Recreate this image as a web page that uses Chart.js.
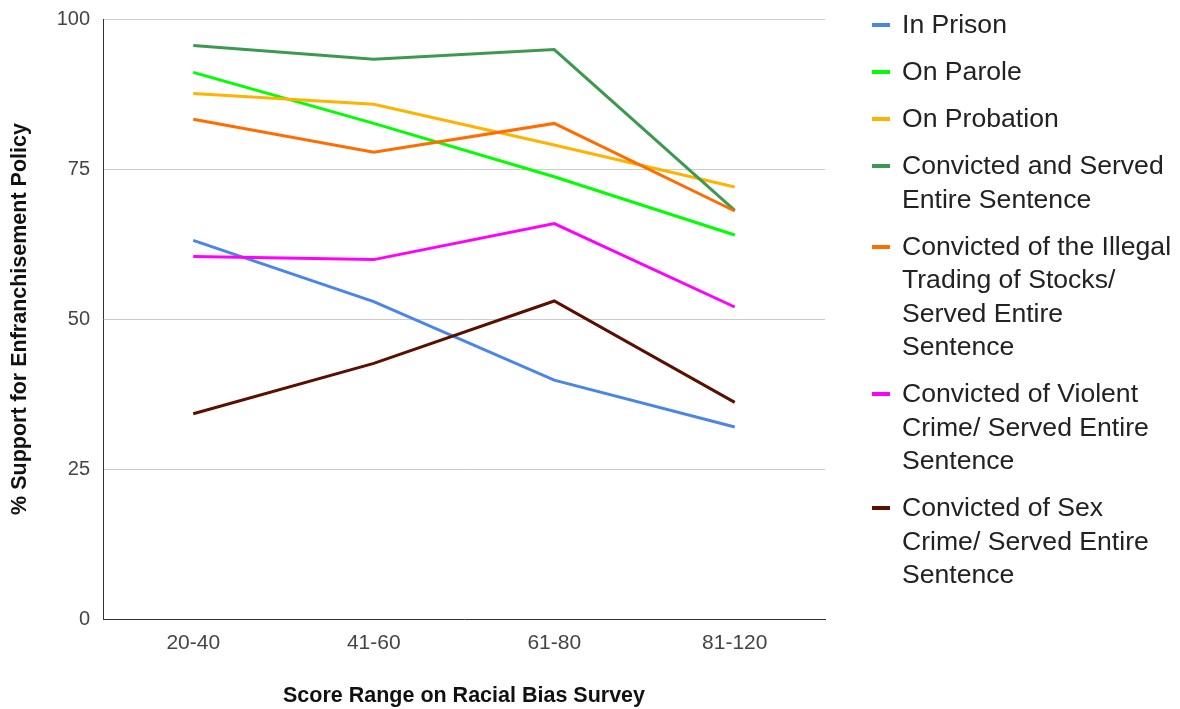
<!DOCTYPE html>
<html>
<head>
<meta charset="utf-8">
<script src="https://cdn.jsdelivr.net/npm/chart.js@4.4.1/dist/chart.umd.min.js"></script>
<style>
  html, body { margin: 0; padding: 0; background: #fff; }
  #wrap { position: relative; width: 1180px; height: 709px; }
  #chart { position: absolute; left: 0; top: 0; }
  #legend {
    position: absolute; left: 872px; top: 8px; width: 305px;
    font-family: Arial, "Liberation Sans", sans-serif; font-size: 26.6px;
    line-height: 33.5px; color: #222;
  }
  .item { position: relative; padding-left: 30px; margin-bottom: 13.5px; }
  .swatch { position: absolute; left: 0; top: 15px; width: 18px; height: 4px; }
</style>
</head>
<body>
<div id="wrap">
  <canvas id="chart" width="1180" height="709"></canvas>
  <div id="legend"></div>
</div>
<script>
// Score ranges on the racial bias survey
const categories = ["20-40", "41-60", "61-80", "81-120"];

// % support for enfranchisement, one array per group
const inPrison       = [63.1, 52.9, 39.8, 32.0];
const onParole       = [91.1, 82.6, 73.7, 64.0];
const onProbation    = [87.6, 85.8, 79.0, 72.0];
const servedEntire   = [95.6, 93.3, 94.9, 68.1];
const illegalTrading = [83.3, 77.8, 82.6, 68.0];
const violentCrime   = [60.4, 59.9, 65.9, 52.0];
const sexCrime       = [34.2, 42.6, 53.0, 36.1];

const seriesNames = [
  "In Prison",
  "On Parole",
  "On Probation",
  "Convicted and Served Entire Sentence",
  "Convicted of the Illegal Trading of Stocks/ Served Entire Sentence",
  "Convicted of Violent Crime/ Served Entire Sentence",
  "Convicted of Sex Crime/ Served Entire Sentence"
];
// Legend lines as they wrap beside the plot
const legendLines = [
  ["In Prison"],
  ["On Parole"],
  ["On Probation"],
  ["Convicted and Served", "Entire Sentence"],
  ["Convicted of the Illegal", "Trading of Stocks/", "Served Entire", "Sentence"],
  ["Convicted of Violent", "Crime/ Served Entire", "Sentence"],
  ["Convicted of Sex", "Crime/ Served Entire", "Sentence"]
];
const yTicks = [0, 25, 50, 75, 100];

const seriesValues = [inPrison, onParole, onProbation, servedEntire, illegalTrading, violentCrime, sexCrime];
const seriesColors = ["#4a86e8", "#00ff00", "#ffb300", "#3c9a50", "#ff6d01", "#ff00ff", "#5b0f00"];

const FONT = "Arial, 'Liberation Sans', sans-serif";

const datasets = seriesValues.map((vals, i) => ({
  label: seriesNames[i],
  data: vals,
  borderColor: seriesColors[i],
  backgroundColor: seriesColors[i],
  borderWidth: 3,
  pointRadius: 0,
  pointHoverRadius: 0,
  tension: 0,
  fill: false,
  order: seriesValues.length - i
}));

new Chart(document.getElementById("chart"), {
  type: "line",
  data: { labels: categories, datasets },
  options: {
    responsive: false,
    animation: false,
    layout: { padding: { left: 0, right: 355, top: 19, bottom: 0 } },
    plugins: { legend: { display: false }, tooltip: { enabled: false } },
    scales: {
      x: {
        offset: true,
        grid: { display: false, drawTicks: false },
        border: { display: true, color: "#333", width: 1 },
        ticks: { color: "#444", font: { family: FONT, size: 21 }, padding: 12 },
        title: {
          display: true, text: "Score Range on Racial Bias Survey", color: "#111",
          font: { family: FONT, size: 21.5, weight: "bold" }, padding: { top: 0, bottom: 0 }
        },
        afterFit: s => { s.height = 90; s.paddingLeft = 0; s.paddingRight = 0; }
      },
      y: {
        min: 0, max: 100,
        afterBuildTicks: s => { s.ticks = yTicks.map(v => ({ value: v })); },
        grid: { color: "#cccccc", lineWidth: 1, drawTicks: false },
        border: { display: true, color: "#333", width: 1 },
        ticks: { color: "#444", font: { family: FONT, size: 20 }, padding: 13 },
        title: {
          display: true, text: "% Support for Enfranchisement Policy", color: "#111",
          font: { family: FONT, size: 21.5, weight: "bold" }, padding: { top: 7, bottom: 0 }
        },
        afterFit: s => { s.width = 103; s.paddingTop = 0; s.paddingBottom = 0; }
      }
    }
  }
});

// Legend beside the plot
const legend = document.getElementById("legend");
legendLines.forEach((lines, i) => {
  const item = document.createElement("div");
  item.className = "item";
  const sw = document.createElement("div");
  sw.className = "swatch";
  sw.style.background = seriesColors[i];
  item.appendChild(sw);
  lines.forEach(t => {
    const line = document.createElement("div");
    line.textContent = t;
    item.appendChild(line);
  });
  legend.appendChild(item);
});
</script>
</body>
</html>
